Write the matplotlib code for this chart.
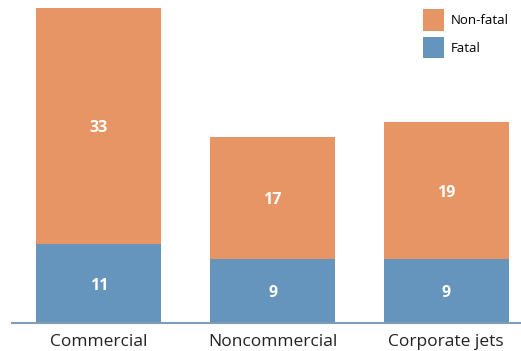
import matplotlib.pyplot as plt
import numpy as np

# --- Data ---
CATEGORIES = ["Commercial", "Noncommercial", "Corporate jets"]
FATAL = [11, 9, 9]
NON_FATAL = [33, 17, 19]

BLUE = "#6595bd"
ORANGE = "#e79565"

plt.rcParams["font.family"] = ["Open Sans", "DejaVu Sans"]

fig = plt.figure(figsize=(5.21, 3.51), dpi=100)
ax = fig.add_axes([12 / 521, 28 / 351, 509 / 521, 323 / 351])

x = np.arange(len(CATEGORIES))
width = 0.72

b1 = ax.bar(x, FATAL, width, color=BLUE, label="Fatal")
b2 = ax.bar(x, NON_FATAL, width, bottom=FATAL, color=ORANGE, label="Non-fatal")

# value labels centred in each segment
for bars, vals, bottoms in [(b1, FATAL, [0] * 3), (b2, NON_FATAL, FATAL)]:
    for rect, v, b in zip(bars, vals, bottoms):
        ax.text(rect.get_x() + rect.get_width() / 2, b + v / 2, str(v),
                ha="center", va="center_baseline", color="white",
                fontsize=11.5, fontweight="bold")

ax.set_xlim(-0.5, 2.43)
ax.set_ylim(0, 45.1)

ax.set_xticks(x)
ax.set_xticklabels(CATEGORIES, fontsize=12.5, color="#222222")
ax.tick_params(axis="x", length=0, pad=8)
ax.set_yticks([])

for side in ["top", "right", "left"]:
    ax.spines[side].set_visible(False)
ax.spines["bottom"].set_color("#7f9db8")
ax.spines["bottom"].set_linewidth(1.5)

handles = [b2, b1]
leg = ax.legend(handles, ["Non-fatal", "Fatal"], loc="upper left",
                bbox_to_anchor=(0.797, 0.988), frameon=False,
                fontsize=9.5, handlelength=1.59, handleheight=2.15,
                handletextpad=0.5, labelspacing=0.45, borderaxespad=0)

fig.savefig("out.png", dpi=100)
